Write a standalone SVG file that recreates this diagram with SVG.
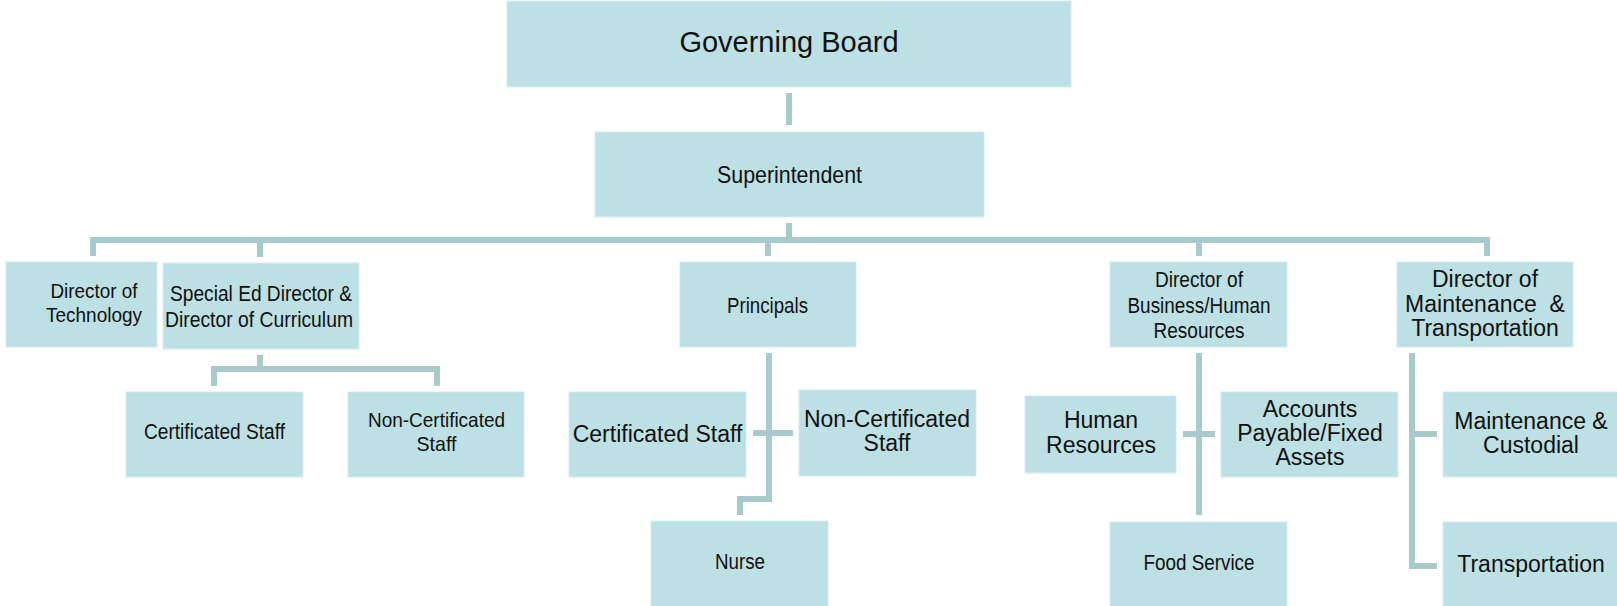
<svg xmlns="http://www.w3.org/2000/svg" width="1617" height="606" viewBox="0 0 1617 606">
<style>
.box{fill:#bce0e3;stroke:#d4ecee;stroke-width:1}
.t{font-family:"Liberation Sans",Arial,sans-serif;fill:#111;text-anchor:middle}
.n{font-size:23px}
.c{font-size:22px}
.s{font-size:21px}
.line{fill:none;stroke:#a9cacd;stroke-width:6;stroke-linejoin:miter}
</style>
<rect width="1617" height="606" fill="#ffffff"/>
<g id="connectors">
<line class="line" x1="789" y1="93" x2="789" y2="125"/>
<line class="line" x1="789" y1="223" x2="789" y2="240"/>
<polyline class="line" points="93,256 93,240 1487,240 1487,256"/>
<line class="line" x1="260" y1="240" x2="260" y2="257"/>
<line class="line" x1="768" y1="240" x2="768" y2="256"/>
<line class="line" x1="1199" y1="240" x2="1199" y2="256"/>
<line class="line" x1="260" y1="355" x2="260" y2="369"/>
<polyline class="line" points="214,386 214,369 437,369 437,386"/>
<polyline class="line" points="769,353 769,499 740,499 740,515"/>
<line class="line" x1="753" y1="433" x2="793" y2="433"/>
<line class="line" x1="1199" y1="353" x2="1199" y2="515"/>
<line class="line" x1="1183" y1="434" x2="1215" y2="434"/>
<polyline class="line" points="1412,353 1412,566 1437,566"/>
<line class="line" x1="1412" y1="434" x2="1437" y2="434"/>
</g>
<g id="governing-board">
<rect class="box" x="507" y="1" width="564" height="86"/>
<text class="t" x="789" y="52" font-size="29">Governing Board</text>
</g>
<g id="superintendent">
<rect class="box" x="595" y="132" width="389" height="85"/>
<text class="t" x="789.5" y="183" font-size="24" textLength="145" lengthAdjust="spacingAndGlyphs">Superintendent</text>
</g>
<g id="director-technology">
<rect class="box" x="6" y="262" width="151" height="85"/>
<text class="t s" x="94" y="298" textLength="87" lengthAdjust="spacingAndGlyphs">Director of</text>
<text class="t s" x="94" y="322" textLength="96" lengthAdjust="spacingAndGlyphs">Technology</text>
</g>
<g id="special-ed">
<rect class="box" x="163" y="263" width="196" height="86"/>
<text class="t c" x="261" y="301" textLength="182" lengthAdjust="spacingAndGlyphs">Special Ed Director &amp;</text>
<text class="t c" x="259" y="327" textLength="188" lengthAdjust="spacingAndGlyphs">Director of Curriculum</text>
</g>
<g id="principals">
<rect class="box" x="680" y="262" width="176" height="85"/>
<text class="t c" x="767.5" y="313" textLength="81" lengthAdjust="spacingAndGlyphs">Principals</text>
</g>
<g id="director-business">
<rect class="box" x="1110" y="262" width="177" height="85"/>
<text class="t c" x="1199" y="287" textLength="88" lengthAdjust="spacingAndGlyphs">Director of</text>
<text class="t c" x="1199" y="313" textLength="143" lengthAdjust="spacingAndGlyphs">Business/Human</text>
<text class="t c" x="1199" y="338" textLength="91" lengthAdjust="spacingAndGlyphs">Resources</text>
</g>
<g id="director-maintenance">
<rect class="box" x="1397" y="262" width="176" height="85"/>
<text class="t n" x="1485" y="287">Director of</text>
<text class="t n" x="1485" y="312">Maintenance&#160; &amp;</text>
<text class="t n" x="1485" y="336">Transportation</text>
</g>
<g id="certificated-staff-1">
<rect class="box" x="126" y="392" width="177" height="85"/>
<text class="t c" x="214.5" y="439" textLength="141" lengthAdjust="spacingAndGlyphs">Certificated Staff</text>
</g>
<g id="non-certificated-staff-1">
<rect class="box" x="348" y="392" width="176" height="85"/>
<text class="t s" x="436.5" y="427" textLength="137" lengthAdjust="spacingAndGlyphs">Non-Certificated</text>
<text class="t s" x="436.5" y="451" textLength="40" lengthAdjust="spacingAndGlyphs">Staff</text>
</g>
<g id="certificated-staff-2">
<rect class="box" x="569" y="392" width="177" height="85"/>
<text class="t n" x="657.5" y="442">Certificated Staff</text>
</g>
<g id="non-certificated-staff-2">
<rect class="box" x="799" y="390" width="177" height="86"/>
<text class="t n" x="887" y="427">Non-Certificated</text>
<text class="t n" x="887" y="451">Staff</text>
</g>
<g id="nurse">
<rect class="box" x="651" y="521" width="177" height="90"/>
<text class="t c" x="740" y="569" textLength="50" lengthAdjust="spacingAndGlyphs">Nurse</text>
</g>
<g id="human-resources">
<rect class="box" x="1025" y="396" width="151" height="77"/>
<text class="t n" x="1101" y="428">Human</text>
<text class="t n" x="1101" y="453">Resources</text>
</g>
<g id="accounts-payable">
<rect class="box" x="1221" y="392" width="177" height="85"/>
<text class="t n" x="1310" y="417">Accounts</text>
<text class="t n" x="1310" y="441">Payable/Fixed</text>
<text class="t n" x="1310" y="465">Assets</text>
</g>
<g id="food-service">
<rect class="box" x="1110" y="522" width="177" height="90"/>
<text class="t c" x="1199" y="570" textLength="111" lengthAdjust="spacingAndGlyphs">Food Service</text>
</g>
<g id="maintenance-custodial">
<rect class="box" x="1443" y="392" width="180" height="85"/>
<text class="t n" x="1531" y="429">Maintenance &amp;</text>
<text class="t n" x="1531" y="453">Custodial</text>
</g>
<g id="transportation">
<rect class="box" x="1443" y="522" width="180" height="90"/>
<text class="t n" x="1531" y="572">Transportation</text>
</g>
</svg>
